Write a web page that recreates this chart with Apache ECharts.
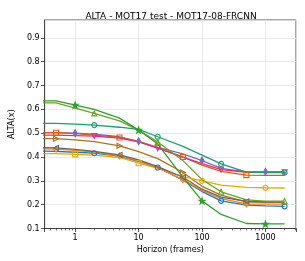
<!DOCTYPE html>
<html><head><meta charset="utf-8">
<script src="https://cdn.jsdelivr.net/npm/echarts@6/dist/echarts.min.js"></script>
<style>html,body{margin:0;padding:0;background:#fff}#c{width:305px;height:261px}</style>
</head><body><div id="c"></div>
<script>
const horizons = [0.2, 0.5, 1, 2, 5, 10, 20, 50, 100, 200, 500, 1000, 2000];
const xTickLabels = ['1', '10', '100', '1000'];
const yTicks = [0.1, 0.2, 0.3, 0.4, 0.5, 0.6, 0.7, 0.8, 0.9];

const greenStar   = [0.636, 0.636, 0.618, 0.600, 0.563, 0.513, 0.455, 0.315, 0.216, 0.159, 0.121, 0.119, 0.119];
const lightGreen  = [0.627, 0.627, 0.605, 0.583, 0.552, 0.513, 0.463, 0.385, 0.305, 0.254, 0.220, 0.215, 0.215];
const teal        = [0.541, 0.541, 0.538, 0.534, 0.525, 0.516, 0.485, 0.445, 0.408, 0.371, 0.337, 0.335, 0.335];
const purple      = [0.502, 0.502, 0.500, 0.496, 0.485, 0.466, 0.440, 0.413, 0.385, 0.352, 0.338, 0.338, 0.338];
const pink        = [0.492, 0.492, 0.490, 0.488, 0.479, 0.464, 0.437, 0.400, 0.372, 0.347, 0.336, 0.336, 0.336];
const orangeSq    = [0.502, 0.502, 0.498, 0.492, 0.482, 0.465, 0.438, 0.400, 0.366, 0.340, 0.324, 0.323, 0.323];
const brown       = [0.478, 0.477, 0.472, 0.465, 0.447, 0.423, 0.393, 0.335, 0.277, 0.240, 0.212, 0.210, 0.210];
const gray        = [0.440, 0.438, 0.432, 0.424, 0.409, 0.388, 0.360, 0.315, 0.265, 0.232, 0.214, 0.212, 0.212];
const orange      = [0.435, 0.433, 0.428, 0.421, 0.405, 0.384, 0.355, 0.305, 0.260, 0.225, 0.203, 0.202, 0.202];
const blue        = [0.425, 0.424, 0.420, 0.416, 0.404, 0.382, 0.356, 0.303, 0.255, 0.216, 0.198, 0.195, 0.193];
const yellow      = [0.415, 0.414, 0.411, 0.408, 0.398, 0.374, 0.352, 0.318, 0.300, 0.282, 0.273, 0.271, 0.270];

const STAR = 'path://M0,-10L2.35,-3.24L9.51,-3.09L3.8,1.24L5.88,8.09L0,4L-5.88,8.09L-3.8,1.24L-9.51,-3.09L-2.35,-3.24Z';
const A = [2,5,8,11], B = [3,6,9,12], C = [1,4,7,10];

const specs = [
  {vals: purple, color:'#7570b3', sym:'diamond', rot:0, marks:A, fill:true, size:[4,7]},
  {vals: orangeSq, color:'#d95f02', sym:'rect', rot:0, marks:C, fill:false, size:5},
  {vals: pink, color:'#e7298a', sym:'triangle', rot:180, marks:B, fill:false, size:5},
  {vals: teal, color:'#1b9e77', sym:'circle', rot:0, marks:B, fill:false, size:5},
  {vals: brown, color:'#a6761d', sym:'triangle', rot:-90, marks:C, fill:false, size:5},
  {vals: yellow, color:'#e6ab02', sym:'rect', rot:0, marks:A, fill:false, size:5, alt:{8:'circle',11:'circle'}},
  {vals: blue, color:'#1f77b4', sym:'circle', rot:0, marks:B, fill:false, size:5},
  {vals: orange, color:'#ff7f0e', sym:'diamond', rot:0, marks:C, fill:false, size:[5,6]},
  {vals: gray, color:'#666666', sym:'triangle', rot:90, marks:C, fill:false, size:5},
  {vals: lightGreen, color:'#66a61e', sym:'triangle', rot:0, marks:B, fill:false, size:5},
  {vals: greenStar, color:'#2ca02c', sym:STAR, rot:0, marks:A, fill:true, size:6}
];

const series = specs.map(s => ({
  type:'line',
  silent:true,
  clip:true,
  symbol:s.sym,
  symbolRotate:s.rot,
  symbolSize:s.size,
  showAllSymbol:true,
  lineStyle:{color:s.color, width:1.3},
  itemStyle:{color: s.fill ? s.color : 'rgba(255,255,255,0)', borderColor:s.color, borderWidth:1.1},
  data: horizons.map((x,i) => {
    const d = {value:[x, s.vals[i]]};
    if (s.marks.indexOf(i) < 0) d.symbol = 'none';
    else if (s.alt && s.alt[i]) d.symbol = s.alt[i];
    return d;
  })
}));

const chart = echarts.init(document.getElementById('c'), null, {renderer:'canvas'});
chart.setOption({
  animation:false,
  textStyle:{fontFamily:'DejaVu Sans'},
  title:{text:'ALTA - MOT17 test - MOT17-08-FRCNN', left:166, top:7, textAlign:'center',
    textStyle:{fontFamily:'DejaVu Sans', fontSize:9, fontWeight:'normal', color:'#000'}},
  grid:{left:36, right:9, top:20, bottom:32.5, show:true, borderColor:'#222', borderWidth:0.8, backgroundColor:'#fff'},
  xAxis:{type:'log', logBase:10, min:0.33, max:3029,
    name:'Horizon (frames)', nameLocation:'middle', nameGap:17,
    nameTextStyle:{fontFamily:'DejaVu Sans', fontSize:8, color:'#000'},
    axisLine:{show:true, lineStyle:{color:'#222', width:0.8}},
    axisTick:{show:true, length:3.5, lineStyle:{color:'#222', width:0.8}},
    minorTick:{show:true, splitNumber:9, length:2, lineStyle:{color:'#222', width:0.6}},
    splitLine:{show:true, lineStyle:{color:'#e4e4e4', width:0.8}},
    axisLabel:{fontFamily:'DejaVu Sans', fontSize:8, color:'#000', margin:5, showMinLabel:false, showMaxLabel:false,
      formatter: v => { const s = String(Math.round(v)); return xTickLabels.indexOf(s) >= 0 ? s : ''; }}
  },
  yAxis:{type:'value', min:0.1, max:0.975, interval:0.1,
    name:'ALTA(x)', nameLocation:'middle', nameGap:25,
    nameTextStyle:{fontFamily:'DejaVu Sans', fontSize:8, color:'#000'},
    axisLine:{show:true, lineStyle:{color:'#222', width:0.8}},
    axisTick:{show:true, length:3.5, lineStyle:{color:'#222', width:0.8}},
    splitLine:{show:true, lineStyle:{color:'#e4e4e4', width:0.8}},
    axisLabel:{fontFamily:'DejaVu Sans', fontSize:8, color:'#000', margin:5, showMaxLabel:false,
      formatter: v => { const t = yTicks.find(k => Math.abs(k - v) < 1e-6); return t !== undefined ? t.toFixed(1) : ''; }}
  },
  series: series
});
</script></body></html>
